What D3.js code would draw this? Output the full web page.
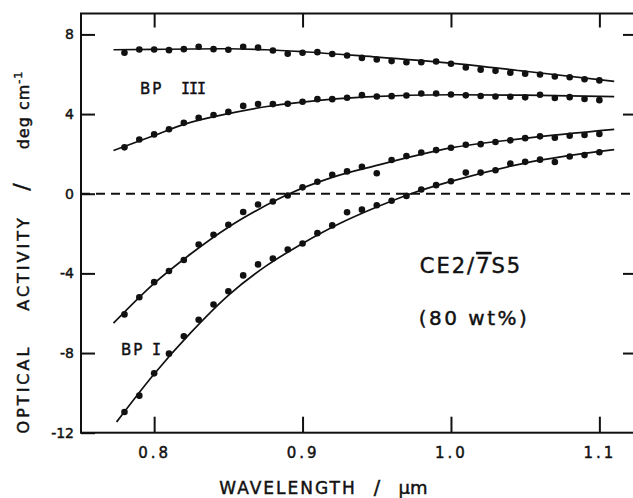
<!DOCTYPE html>
<html>
<head>
<meta charset="utf-8">
<script src="https://cdn.jsdelivr.net/npm/d3@7"></script>
<style>
  body { margin: 0; background: white; }
  text { font-family: "DejaVu Sans", sans-serif; fill: #111; stroke: #111; stroke-width: 0.45px; }
</style>
</head>
<body>
<div id="plot"></div>
<script>
// data

const wavelengths = [0.78, 0.79, 0.80, 0.81, 0.82, 0.83, 0.84, 0.85, 0.86, 0.87, 0.88,
      0.89, 0.90, 0.91, 0.92, 0.93, 0.94, 0.95, 0.96, 0.97, 0.98, 0.99,
      1.00, 1.01, 1.02, 1.03, 1.04, 1.05, 1.06, 1.07, 1.08, 1.09, 1.10];

// BP III, upper branch
const bp3Upper = [7.08, 7.24, 7.24, 7.21, 7.26, 7.38, 7.26, 7.23, 7.38, 7.34, 7.19,
      7.03, 7.08, 7.11, 7.02, 6.94, 6.82, 6.74, 6.66, 6.60, 6.60, 6.64,
      6.53, 6.34, 6.23, 6.17, 6.08, 6.03, 5.99, 5.89, 5.85, 5.75, 5.69];
// BP III, lower branch
const bp3Lower = [2.33, 2.72, 2.98, 3.24, 3.56, 3.81, 3.95, 4.11, 4.41, 4.50, 4.50,
      4.52, 4.62, 4.75, 4.75, 4.82, 4.95, 4.88, 4.90, 4.93, 5.03, 5.03,
      4.98, 4.94, 4.91, 4.88, 4.87, 4.84, 4.97, 4.81, 4.85, 4.76, 4.70];
// BP I, upper branch
const bp1Upper = [-6.06, -5.20, -4.44, -3.88, -3.33, -2.55, -2.06, -1.56, -0.92, -0.54, -0.39,
      -0.09, 0.32, 0.60, 0.95, 1.12, 1.35, 1.03, 1.69, 1.89, 2.07, 2.19,
      2.31, 2.46, 2.49, 2.60, 2.68, 2.79, 2.88, 2.81, 2.91, 2.95, 3.00];
// BP I, lower branch
const bp1Lower = [-10.96, -10.14, -9.02, -8.03, -7.16, -6.33, -5.56, -4.90, -4.10, -3.55, -3.25,
      -2.80, -2.50, -1.98, -1.59, -0.93, -0.80, -0.58, -0.35, -0.11, 0.21, 0.43,
      0.63, 1.06, 1.06, 1.18, 1.52, 1.60, 1.71, 1.59, 1.87, 1.94, 2.08];

// fitted curves [wavelength, activity]
const fitBp3Upper = [[0.7726, 7.23], [0.80, 7.25], [0.85, 7.28], [0.875, 7.23], [0.90, 7.13],
      [0.94, 6.92], [1.00, 6.56], [1.05, 6.15], [1.11, 5.64]];
const fitBp3Lower = [[0.7726, 2.17], [0.80, 2.92], [0.82, 3.48], [0.85, 4.02], [0.876, 4.38],
      [0.90, 4.60], [0.943, 4.86], [1.00, 4.97], [1.05, 4.95], [1.11, 4.88]];
const fitBp1Upper = [[0.7726, -6.5], [0.80, -4.5], [0.825, -3.0], [0.85, -1.68], [0.87, -0.8],
      [0.89, -0.04], [0.92, 0.82], [0.95, 1.42], [1.00, 2.3], [1.05, 2.78], [1.11, 3.23]];
const fitBp1Lower = [[0.7747, -11.46], [0.80, -9.05], [0.825, -6.95], [0.85, -5.1], [0.875, -3.65],
      [0.90, -2.5], [0.925, -1.5], [0.95, -0.67], [0.973, 0], [1.00, 0.62], [1.05, 1.54], [1.11, 2.21]];

const xTicks = [0.8, 0.9, 1.0, 1.1];
const yTicks = [8, 4, 0, -4, -8, -12];

const w = 633;
const h = 498;
const margin = {top: 13.5, right: -3, bottom: 65.3, left: 81};

const svg = d3.select("div#plot")
      .append("svg")
      .attr("width", w)
      .attr("height", h);

svg.append("rect")
      .attr("width", w)
      .attr("height", h)
      .attr("fill", "white");

// 0.1 um = 148.7 px, 0.8 sits at x = 154.3
const x = d3.scaleLinear()
      .domain([0.75071, 1.12468])
      .range([margin.left, w - margin.right]);

const y = d3.scaleLinear()
      .domain([-12, 9.05])
      .range([h - margin.bottom, margin.top]);

// axes, ticks pointing inward
const axisStyle = g => {
      g.select(".domain").remove();
      g.selectAll(".tick line").attr("stroke", "#111").attr("stroke-width", 2);
      g.selectAll(".tick text")
        .style("font-family", "DejaVu Sans")
        .style("font-size", "14px")
        .attr("fill", "#111");
};

svg.append("g")
      .attr("transform", `translate(${margin.left},0)`)
      .call(d3.axisLeft(y).tickValues(yTicks).tickSize(-14).tickPadding(7)
        .tickFormat(d => String(d)))
      .call(axisStyle);

svg.append("g")
      .attr("transform", `translate(${w - margin.right},0)`)
      .call(d3.axisRight(y).tickValues([8, 4, -4, -8]).tickSize(-13).tickFormat(""))
      .call(axisStyle);

svg.append("g")
      .attr("transform", `translate(0,${h - margin.bottom})`)
      .call(d3.axisBottom(x).tickValues(xTicks).tickSize(-16).tickPadding(15)
        .tickFormat(d3.format(".1f")))
      .call(axisStyle)
      .selectAll(".tick text")
      .style("font-size", "15px")
      .style("letter-spacing", "3px");

svg.append("g")
      .attr("transform", `translate(0,${margin.top})`)
      .call(d3.axisTop(x).tickValues(xTicks).tickSize(-14).tickFormat(""))
      .call(axisStyle);

// frame
svg.append("rect")
      .attr("x", margin.left)
      .attr("y", margin.top)
      .attr("width", w - margin.right - margin.left)
      .attr("height", h - margin.bottom - margin.top)
      .attr("fill", "none")
      .attr("stroke", "#111")
      .attr("stroke-width", 2);

// zero line
svg.append("line")
      .attr("x1", margin.left)
      .attr("x2", w)
      .attr("y1", y(0))
      .attr("y2", y(0))
      .attr("stroke", "#111")
      .attr("stroke-width", 2)
      .attr("stroke-dasharray", "9,6");

const line = d3.line()
      .x(d => x(d[0]))
      .y(d => y(d[1]))
      .curve(d3.curveMonotoneX);

[fitBp3Upper, fitBp3Lower, fitBp1Upper, fitBp1Lower].forEach(fit => {
      svg.append("path")
        .datum(fit)
        .attr("d", line)
        .attr("fill", "none")
        .attr("stroke", "#111")
        .attr("stroke-width", 1.7);
});

[bp3Upper, bp3Lower, bp1Upper, bp1Lower].forEach(series => {
      svg.append("g")
        .selectAll("circle")
        .data(series)
        .enter()
        .append("circle")
        .attr("cx", (d, i) => x(wavelengths[i]))
        .attr("cy", d => y(d))
        .attr("r", 3.3)
        .attr("fill", "#111");
});

// labels
const bp3 = svg.append("text")
      .attr("x", 140)
      .attr("y", 94)
      .style("font-size", "15px")
      .style("letter-spacing", "2px");
bp3.append("tspan").text("BP");
bp3.append("tspan").attr("x", 181).style("font-family", "DejaVu Sans Mono")
      .style("letter-spacing", "-1px").text("III");

const bp1 = svg.append("text")
      .attr("x", 121)
      .attr("y", 355)
      .style("font-size", "15px")
      .style("letter-spacing", "2px");
bp1.append("tspan").text("BP");
bp1.append("tspan").attr("x", 152).style("font-family", "DejaVu Sans Mono").text("I");

const ce = svg.append("text")
      .attr("x", 471)
      .attr("y", 273)
      .style("text-anchor", "middle")
      .style("font-size", "21px")
      .style("letter-spacing", "2px");
ce.append("tspan").text("CE2/");
ce.append("tspan").style("text-decoration", "overline").text("7");
ce.append("tspan").text("S5");

svg.append("text")
      .attr("x", 474)
      .attr("y", 325)
      .style("text-anchor", "middle")
      .style("font-size", "20px")
      .style("letter-spacing", "2.5px")
      .style("white-space", "pre")
      .text("(80 wt%)");

// x title
svg.append("text")
      .attr("x", 288)
      .attr("y", 494)
      .style("text-anchor", "middle")
      .style("font-size", "17px")
      .style("letter-spacing", "2px")
      .text("WAVELENGTH");

svg.append("text")
      .attr("x", 377)
      .attr("y", 494)
      .style("text-anchor", "middle")
      .style("font-size", "19px")
      .text("/");

svg.append("text")
      .attr("x", 413)
      .attr("y", 494)
      .style("text-anchor", "middle")
      .style("font-size", "18px")
      .text("\u03bcm");

// y title, pieces placed along the rotated axis
const yTitle = [
      {t: "OPTICAL", c: 389, size: 16, sp: 3},
      {t: "ACTIVITY", c: 263, size: 16, sp: 3},
      {t: "/", c: 187, size: 22, sp: 0}
];
yTitle.forEach(p => {
      svg.append("text")
        .attr("transform", `translate(29,${p.c}) rotate(-90)`)
        .style("text-anchor", "middle")
        .style("font-size", p.size + "px")
        .style("letter-spacing", p.sp + "px")
        .text(p.t);
});

const unit = svg.append("text")
      .attr("transform", "translate(29,110) rotate(-90)")
      .style("text-anchor", "middle")
      .style("font-size", "16px")
      .style("letter-spacing", "1px")
      .style("white-space", "pre");
unit.append("tspan").text("deg cm");
unit.append("tspan").attr("dy", -7).style("font-size", "11px").text("-1");
</script>
</body>
</html>
